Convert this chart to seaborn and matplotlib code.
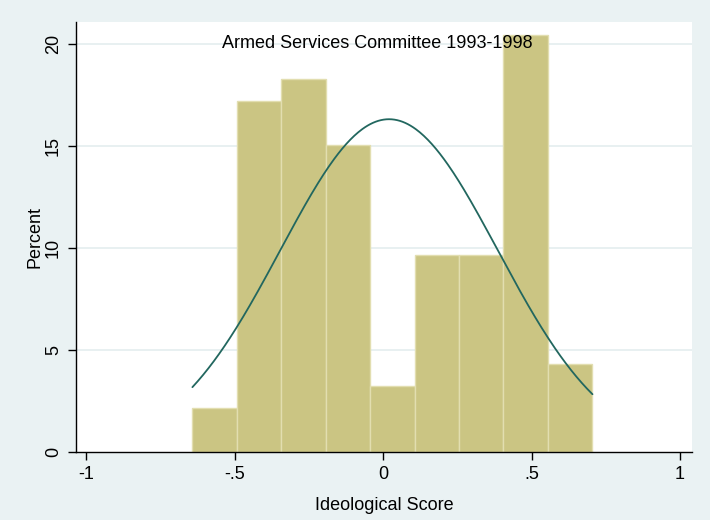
import numpy as np
import pandas as pd
import matplotlib
matplotlib.use("Agg")
import matplotlib.pyplot as plt
import seaborn as sns

# ---- data ----
bin_edges = [-0.642, -0.492, -0.343, -0.193, -0.043, 0.106, 0.256, 0.405, 0.555, 0.705]
percents = [2.15, 17.20, 18.28, 15.05, 3.23, 9.68, 9.68, 20.43, 4.30]
norm_mean = 0.02
norm_sd = 0.366
x_ticks = [-1, -0.5, 0, 0.5, 1]
x_tick_labels = ["-1", "-.5", "0", ".5", "1"]
y_ticks = [0, 5, 10, 15, 20]
title_text = "Armed Services Committee 1993-1998"
x_label = "Ideological Score"
y_label = "Percent"

sns.set_theme(style="white")
plt.rcParams["font.family"] = ["Liberation Sans", "DejaVu Sans"]

bg = "#EAF2F3"
fig = plt.figure(figsize=(7.1, 5.2), dpi=100, facecolor=bg)
ax = fig.add_axes([0.107, 0.1308, 0.8676, 0.8269])
ax.set_facecolor("white")

centers = [(bin_edges[i] + bin_edges[i + 1]) / 2 for i in range(len(percents))]
df = pd.DataFrame({"x": centers, "w": percents})
sns.histplot(data=df, x="x", weights="w", bins=bin_edges, stat="count",
             color="#CBC583", alpha=1.0, edgecolor="#E2DEB0", linewidth=1.0,
             ax=ax, zorder=2)

# normal density overlay scaled to percent per bin
width = (bin_edges[-1] - bin_edges[0]) / len(percents)
xs = np.linspace(bin_edges[0], bin_edges[-1], 300)
ys = 100 * width * np.exp(-0.5 * ((xs - norm_mean) / norm_sd) ** 2) / (norm_sd * np.sqrt(2 * np.pi))
sns.lineplot(x=xs, y=ys, color="#22675F", linewidth=1.3, ax=ax, zorder=3)

ax.set_xlim(-1.034, 1.040)
ax.set_ylim(0, 21.08)
ax.set_xticks(x_ticks)
ax.set_xticklabels(x_tick_labels, fontsize=13)
ax.set_yticks(y_ticks)
ax.set_yticklabels([str(v) for v in y_ticks], fontsize=13, rotation=90, va="center")

for v in y_ticks[1:]:
    ax.axhline(v, color="#E4EDEF", linewidth=1.2, zorder=0)

for s in ["top", "right"]:
    ax.spines[s].set_visible(False)
for s in ["left", "bottom"]:
    ax.spines[s].set_color("black")
    ax.spines[s].set_linewidth(1.0)

ax.tick_params(axis="both", direction="out", length=6, width=1, color="black",
               bottom=True, left=True, pad=4, labelcolor="black")

ax.set_xlabel(x_label, fontsize=13, labelpad=10, color="black")
ax.set_ylabel(y_label, fontsize=13, labelpad=1, color="black")

ax.text(0.49, 0.951, title_text, transform=ax.transAxes, ha="center", va="center",
        fontsize=13, color="black", zorder=5)

fig.savefig("out.png", dpi=100, facecolor=bg)
